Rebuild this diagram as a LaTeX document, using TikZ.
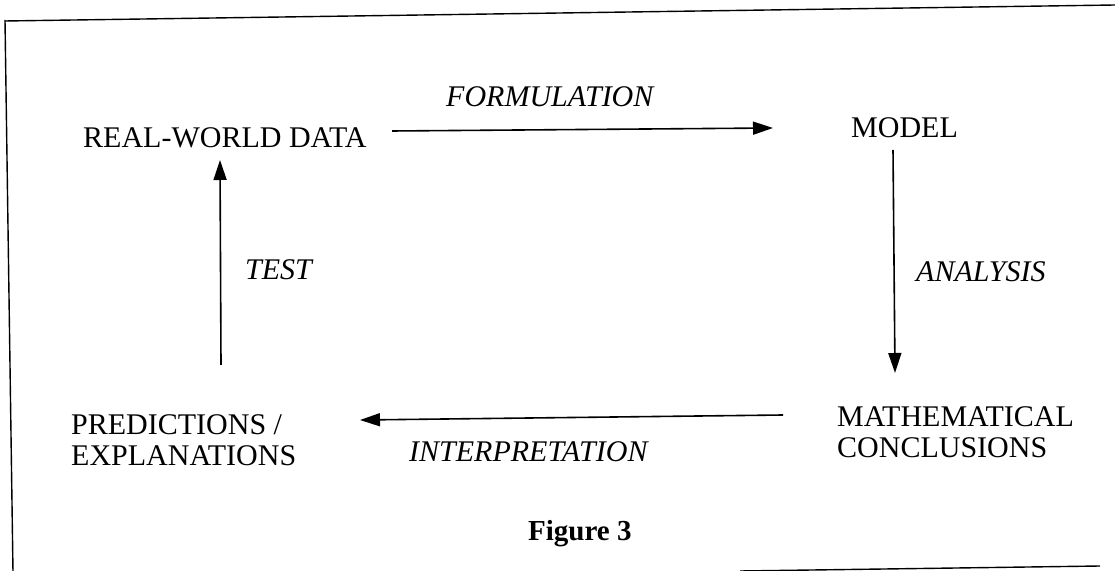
\documentclass[tikz,border=0pt]{standalone}
\usepackage{fontspec}
\setmainfont{Liberation Serif}
\usetikzlibrary{arrows.meta}
\begin{document}
\begin{tikzpicture}[x=1pt,y=1pt,
  lbl/.style={anchor=base west,inner sep=0pt,font=\fontsize{30}{32}\selectfont},
  ilbl/.style={lbl,font=\fontsize{30}{32}\selectfont\itshape},
  twoline/.style={anchor=base west,inner sep=0pt,align=left,font=\fontsize{30}{32}\selectfont},
  arr/.style={line width=1.6pt,-{Triangle[length=20pt,width=13pt]}},
  frame/.style={line width=1.4pt}]
\useasboundingbox (0,0) rectangle (1115,570);
\begin{scope}
\clip (0,0) rectangle (1115,570);
\draw[frame] (5,549) -- (1115,565);
\draw[frame] (5,550) -- (13,-2);
\draw[frame] (740,-1) -- (1100,4);
\end{scope}
% nodes
\node[lbl] (rw) at (83,422) {REAL-WORLD DATA};
\node[lbl] (model) at (851,432) {MODEL};
\node[ilbl] (form) at (446,463) {FORMULATION};
\node[ilbl] (anal) at (916,288) {ANALYSIS};
\node[ilbl] (test) at (245,290) {TEST};
\node[twoline] (math) at (837,112) {MATHEMATICAL\\CONCLUSIONS};
\node[twoline] (pred) at (71,104) {PREDICTIONS /\\EXPLANATIONS};
\node[ilbl] (interp) at (409,108) {INTERPRETATION};
\node[anchor=base west,inner sep=0pt,font=\fontsize{29}{32}\selectfont\bfseries] (fig) at (528,30) {Figure 3};
% connector ends
\coordinate (fs) at (392,439);
\coordinate (fe) at (773,442);
\coordinate (as) at (893,420);
\coordinate (ae) at (895,197);
\coordinate (is) at (783,155);
\coordinate (ie) at (360,150);
\coordinate (ts) at (221,205);
\coordinate (te) at (220,410);
\draw[arr] (fs) -- (fe);
\draw[arr] (as) -- (ae);
\draw[arr] (is) -- (ie);
\draw[arr] (ts) -- (te);
\end{tikzpicture}
\end{document}
